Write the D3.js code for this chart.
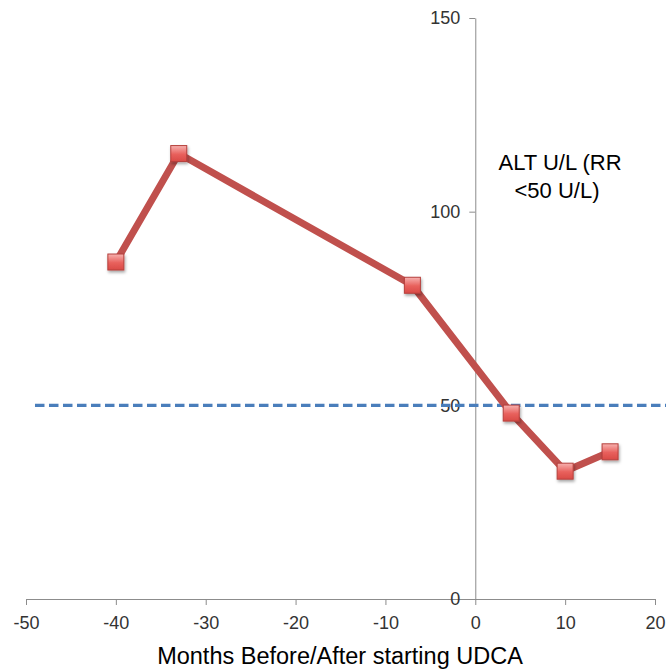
<!DOCTYPE html>
<html>
<head>
<meta charset="utf-8">
<script src="https://cdn.jsdelivr.net/npm/d3@7"></script>
<style>
  html, body { margin: 0; padding: 0; background: #fff; }
  svg { display: block; }
  text { font-family: "Liberation Sans", Arial, sans-serif; }
</style>
</head>
<body>
<svg id="chart" width="666" height="669"></svg>
<script>
// ---- data ----
const months = [-40, -33, -7, 4, 10, 15];
const altValues = [87, 115, 81, 48, 33, 38];
const refRange = [-49, 22];
const refValue = 50;
const xTicks = [-50, -40, -30, -20, -10, 0, 10, 20];
const yTicks = [0, 50, 100, 150];
const xTitle = "Months Before/After starting UDCA";
const seriesLabel = ["ALT U/L (RR", "<50 U/L)"];

const svg = d3.select("#chart");
const x = d3.scaleLinear().domain([-50, 20]).range([26, 655]);
const y = d3.scaleLinear().domain([0, 150]).range([599, 18]);

// gradient for markers
const defs = svg.append("defs");
const grad = defs.append("linearGradient").attr("id", "mk").attr("x1", 0).attr("y1", 0).attr("x2", 0).attr("y2", 1);
grad.append("stop").attr("offset", "0%").attr("stop-color", "#f7b2b0");
grad.append("stop").attr("offset", "55%").attr("stop-color", "#e8605c");
grad.append("stop").attr("offset", "100%").attr("stop-color", "#d94a46");
const flt = defs.append("filter").attr("id", "sh").attr("x", "-50%").attr("y", "-50%").attr("width", "200%").attr("height", "200%");
flt.append("feDropShadow").attr("dx", 1).attr("dy", 2).attr("stdDeviation", 1.5).attr("flood-color", "#000").attr("flood-opacity", 0.35);

// x axis at y=0
const xAxis = d3.axisBottom(x).tickValues(xTicks).tickSize(6).tickSizeOuter(0).tickFormat(d3.format("d"));
const gx = svg.append("g").attr("transform", `translate(0,${y(0)})`).call(xAxis);
gx.select(".domain").attr("stroke", "#8c8c8c").attr("stroke-width", 1);
gx.selectAll(".tick line").attr("stroke", "#8c8c8c");
gx.selectAll(".tick text").attr("font-size", 18).attr("fill", "#333").attr("dy", "1.15em")
  .attr("font-family", "'Liberation Sans', Arial, sans-serif").text(d => d < 0 ? "-" + Math.abs(d) : d);

// y axis at x=0
const yAxis = d3.axisLeft(y).tickValues(yTicks).tickSize(6).tickSizeOuter(0).tickFormat(d3.format("d"));
const gy = svg.append("g").attr("transform", `translate(${x(0)},0)`).call(yAxis);
gy.select(".domain").attr("stroke", "#8c8c8c").attr("stroke-width", 1);
gy.selectAll(".tick line").attr("stroke", "#8c8c8c");
gy.selectAll(".tick text").attr("font-size", 18).attr("fill", "#333").attr("x", -15)
  .attr("font-family", "'Liberation Sans', Arial, sans-serif");

// reference dashed line
svg.append("line")
  .attr("x1", x(refRange[0])).attr("x2", x(refRange[1]))
  .attr("y1", y(refValue)).attr("y2", y(refValue))
  .attr("stroke", "#4a7ebb").attr("stroke-width", 3.4).attr("stroke-dasharray", "9.5,4.5");

// series line
const pts = months.map((m, i) => [m, altValues[i]]);
svg.append("path").datum(pts)
  .attr("fill", "none").attr("stroke", "#c0504d").attr("stroke-width", 7)
  .attr("stroke-linejoin", "round")
  .attr("d", d3.line().x(d => x(d[0])).y(d => y(d[1])));

// markers
const s = 16;
svg.append("g").selectAll("rect").data(pts).join("rect")
  .attr("x", d => x(d[0]) - s / 2).attr("y", d => y(d[1]) - s / 2)
  .attr("width", s).attr("height", s)
  .attr("fill", "url(#mk)").attr("stroke", "#b5403c").attr("stroke-width", 1)
  .attr("filter", "url(#sh)");

// x title
svg.append("text").attr("x", 340).attr("y", 664).attr("text-anchor", "middle")
  .attr("font-size", 23.5).attr("fill", "#000").text(xTitle);

// series label
svg.append("text").attr("x", 560).attr("y", 170).attr("text-anchor", "middle")
  .attr("font-size", 22).attr("fill", "#000").text(seriesLabel[0]);
svg.append("text").attr("x", 557).attr("y", 198).attr("text-anchor", "middle")
  .attr("font-size", 22).attr("fill", "#000").text(seriesLabel[1]);
</script>
</body>
</html>
